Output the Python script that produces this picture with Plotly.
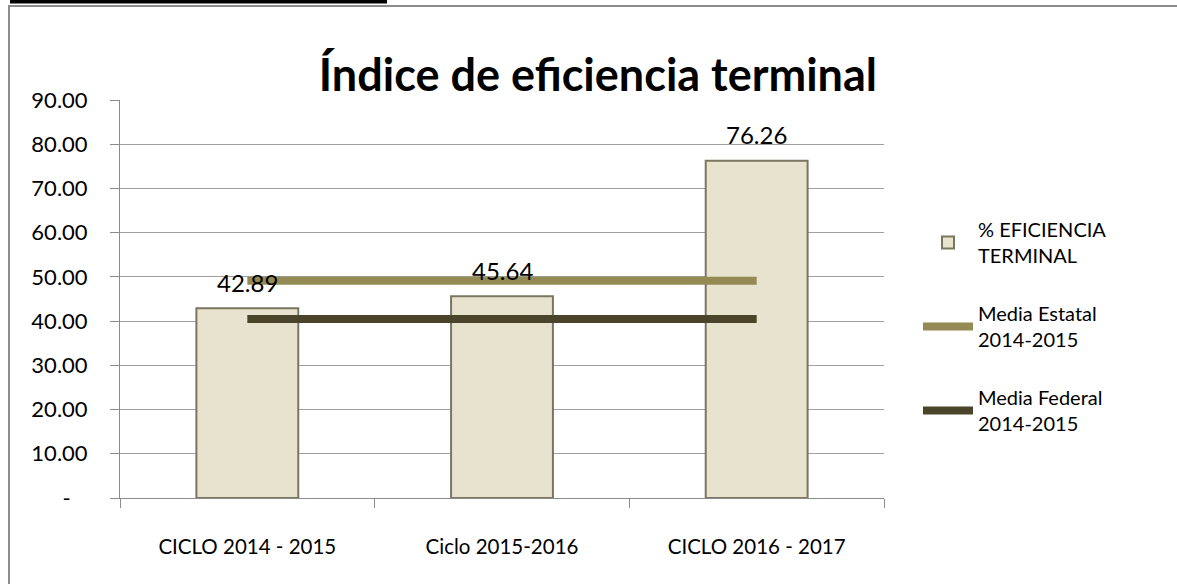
import plotly.graph_objects as go

categories = ["CICLO 2014 - 2015", "Ciclo 2015-2016", "CICLO 2016 - 2017"]
eficiencia = [42.89, 45.64, 76.26]
media_estatal = [49.1, 49.1]
media_federal = [40.5, 40.5]
line_x = [categories[0], categories[-1]]
y_ticks = [0, 10, 20, 30, 40, 50, 60, 70, 80, 90]
y_ticktext = ["-\u00a0\u00a0\u00a0"] + [f"{v:.2f}" for v in y_ticks[1:]]

FONT = "Lato"

fig = go.Figure()
fig.add_trace(go.Bar(
    x=categories, y=eficiencia, name="% EFICIENCIA<br>TERMINAL",
    marker=dict(color="#E8E3CF", line=dict(color="#7a765f", width=2)),
    width=0.4, legendgroup="a",
))
fig.add_trace(go.Scatter(
    x=line_x, y=media_estatal, mode="lines", name="Media Estatal<br>2014-2015",
    line=dict(color="#948A54", width=8), legendgroup="b",
))
fig.add_trace(go.Scatter(
    x=line_x, y=media_federal, mode="lines", name="Media Federal<br>2014-2015",
    line=dict(color="#4A452A", width=8), legendgroup="c",
))

annotations = [
    dict(x=c, y=v, text=f"{v:.2f}", showarrow=False, yanchor="middle", yshift=26,
         font=dict(family=FONT, size=24, color="black"))
    for c, v in zip(categories, eficiencia)
]

def px_x(p):
    return (p - 120) / 764.0

def px_y(p):
    return (498 - p) / 398.0

shapes = [
    dict(type="rect", xref="paper", yref="paper", x0=px_x(9), x1=px_x(1190),
         y0=px_y(600), y1=px_y(6), line=dict(color="#8c8c8c", width=2), fillcolor="rgba(0,0,0,0)", layer="below"),
    dict(type="rect", xref="paper", yref="paper", x0=px_x(10), x1=px_x(387),
         y0=px_y(3.5), y1=px_y(-1), line=dict(width=0), fillcolor="black"),
]

fig.update_layout(
    width=1177, height=584,
    margin=dict(l=120, r=293, t=100, b=86),
    paper_bgcolor="white", plot_bgcolor="white",
    font=dict(family=FONT, color="black"),
    title=dict(text="<b>Índice de eficiencia terminal</b>", x=0.508, xanchor="center",
               y=1 - 75 / 584, yanchor="middle", font=dict(family=FONT, size=45, color="black")),
    showlegend=True,
    legend=dict(x=px_x(918), xanchor="left", y=px_y(210), yanchor="top",
                font=dict(family=FONT, size=20, color="black"), tracegroupgap=29,
                itemwidth=50, bgcolor="rgba(0,0,0,0)"),
    annotations=annotations,
    shapes=shapes,
    bargap=0.6,
)
fig.update_xaxes(type="category", tickson="boundaries", ticks="outside", ticklen=9,
                 tickcolor="#8c8c8c", showline=True, linecolor="#8c8c8c", linewidth=1,
                 showgrid=False, tickfont=dict(family=FONT, size=20.5, color="black"),
                 ticklabelstandoff=30, range=[-0.5, 2.5])
fig.update_yaxes(range=[0, 90], tickvals=y_ticks, ticktext=y_ticktext, ticks="outside",
                 ticklen=9, tickcolor="#8c8c8c", showline=True, linecolor="#8c8c8c",
                 gridcolor="#a0a0a0", gridwidth=1, zeroline=False, ticklabelstandoff=18,
                 tickfont=dict(family=FONT, size=22, color="black"))

fig.write_html("out.html", config={"displayModeBar": False},
               post_script="document.body.style.margin='0px';")
